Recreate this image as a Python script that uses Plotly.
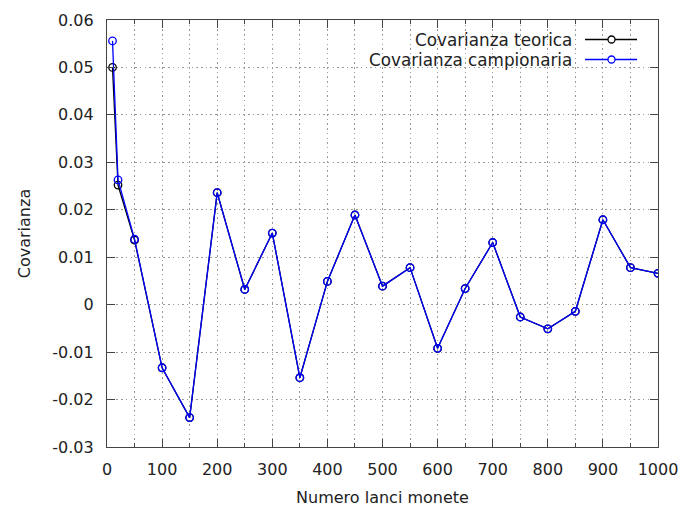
import plotly.graph_objects as go

# Numero di lanci e covarianze
lanci = [10, 20, 50, 100, 150, 200, 250, 300, 350, 400, 450, 500,
         550, 600, 650, 700, 750, 800, 850, 900, 950, 1000]
cov_teorica = [0.0500, 0.0252, 0.0136, -0.0133, -0.0238, 0.0236, 0.0032, 0.0151,
               -0.0154, 0.0049, 0.0189, 0.0039, 0.0078, -0.0092, 0.0034, 0.0131,
               -0.0026, -0.0051, -0.0014, 0.0179, 0.0078, 0.0066]
cov_campionaria = [0.0556, 0.0263, 0.0138, -0.0133, -0.0238, 0.0236, 0.0032, 0.0151,
                   -0.0154, 0.0049, 0.0189, 0.0039, 0.0078, -0.0092, 0.0034, 0.0131,
                   -0.0026, -0.0051, -0.0014, 0.0179, 0.0078, 0.0066]

x_ticks = [0, 100, 200, 300, 400, 500, 600, 700, 800, 900, 1000]
y_ticks = [-0.03, -0.02, -0.01, 0, 0.01, 0.02, 0.03, 0.04, 0.05, 0.06]
y_labels = ["-0.03", "-0.02", "-0.01", "0", "0.01", "0.02", "0.03", "0.04", "0.05", "0.06"]

nomi = ["Covarianza teorica", "Covarianza campionaria"]
colori = ["#000000", "#0000ff"]

FONT = "DejaVu Sans"
TXT = "#222222"
W, H = 684, 507
ML, MR, MT, MB = 107, 26, 20, 60
PW, PH = W - ML - MR, H - MT - MB


def px_to_paper(px, py):
    """Pixel della pagina -> coordinate 'paper' (relative all'area del grafico)."""
    return (px - ML) / PW, (H - MB - py) / PH


fig = go.Figure()
for nome, ys, col in zip(nomi, [cov_teorica, cov_campionaria], colori):
    fig.add_trace(go.Scatter(
        x=lanci, y=ys, name=nome, mode="lines+markers",
        line=dict(color=col, width=1.3),
        marker=dict(symbol="circle-open", size=7.5, color=col, line=dict(width=1.3)),
        showlegend=False,
    ))

# Legenda in alto a destra: testo allineato a destra, campione a destra
row_y = [39.5, 59.5]
for nome, col, yy in zip(nomi, colori, row_y):
    xt, yp = px_to_paper(574, yy)
    x0, _ = px_to_paper(585, yy)
    x1, _ = px_to_paper(637, yy)
    xc0, _ = px_to_paper(608, yy)
    xc1, _ = px_to_paper(615, yy)
    dy = 3.5 / PH
    fig.add_annotation(xref="paper", yref="paper", x=xt, y=yp, xanchor="right",
                       yanchor="middle", text=nome, showarrow=False,
                       font=dict(family=FONT, size=16.8, color=TXT))
    fig.add_shape(type="line", xref="paper", yref="paper", x0=x0, x1=x1,
                  y0=yp, y1=yp, line=dict(color=col, width=1.3))
    fig.add_shape(type="circle", xref="paper", yref="paper",
                  x0=xc0, x1=xc1, y0=yp - dy, y1=yp + dy,
                  line=dict(color=col, width=1.3), fillcolor="white")

GRID_DASH = "1.5px,3.2px"
axis_common = dict(
    showline=True, linecolor="#444444", linewidth=1.2, mirror="ticks",
    ticks="inside", ticklen=8, tickcolor="#444444", tickwidth=1.2,
    showgrid=True, gridcolor="#9a9a9a", griddash=GRID_DASH, gridwidth=1,
    zeroline=False, automargin=False,
    tickfont=dict(family=FONT, size=16, color=TXT),
)

fig.update_xaxes(
    range=[0, 1000], tickvals=x_ticks, ticktext=[str(v) for v in x_ticks],
    minor=dict(ticks="inside", ticklen=4, dtick=50, tick0=0, tickcolor="#444444",
               showgrid=True, gridcolor="#9a9a9a", griddash=GRID_DASH),
    title=dict(text="Numero lanci monete", font=dict(family=FONT, size=16, color=TXT),
               standoff=18),
    ticklabelstandoff=8,
    **axis_common,
)
fig.update_yaxes(
    range=[-0.03, 0.06], tickvals=y_ticks, ticktext=y_labels,
    title=dict(text="Covarianza", font=dict(family=FONT, size=16, color=TXT),
               standoff=17),
    ticklabelstandoff=9,
    **axis_common,
)

fig.update_layout(
    width=W, height=H,
    margin=dict(l=ML, r=MR, t=MT, b=MB),
    paper_bgcolor="white", plot_bgcolor="white",
    font=dict(family=FONT, size=16, color=TXT),
)

fig.write_html("out.html")
